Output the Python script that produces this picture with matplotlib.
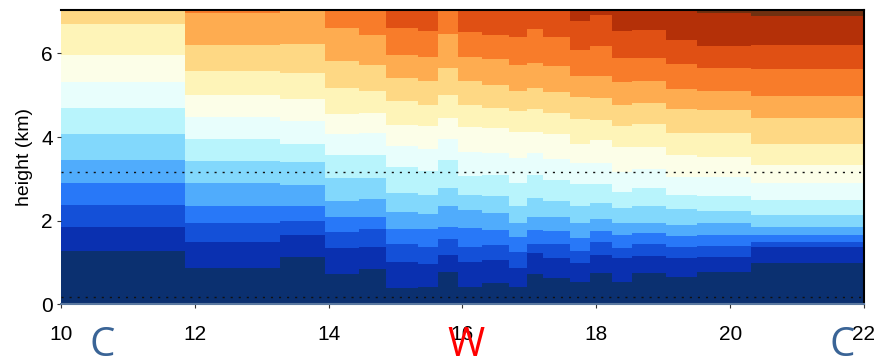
import numpy as np
import matplotlib
matplotlib.use('Agg')
import matplotlib.pyplot as plt

plt.rcParams['font.family'] = ['Liberation Sans', 'DejaVu Sans']

# Time bins (hour) used for each profile column
x_edges = [10.0, 11.85, 13.27, 13.95, 14.45, 14.85, 15.33, 15.64, 15.93, 16.29,
           16.70, 16.96, 17.21, 17.60, 17.90, 18.24, 18.54, 19.04, 19.50, 20.31, 22.0]

# Height (km) where each contour band ends, one value per column.
# nan = band continues above the top of the plot
nan = np.nan
top_1 = [1.27, 0.86, 1.13, 0.72, 0.84, 0.38, 0.42, 0.77, 0.41, 0.52,
         0.42, 0.72, 0.62, 0.54, 0.74, 0.54, 0.76, 0.66, 0.78, 1.00]
top_2 = [1.86, 1.48, 1.65, 1.34, 1.37, 1.02, 0.96, 1.17, 1.01, 1.05,
         0.88, 1.24, 1.10, 0.98, 1.18, 1.10, 1.16, 1.10, 1.14, 1.36]
top_3 = [2.38, 1.94, 1.99, 1.74, 1.81, 1.45, 1.38, 1.56, 1.38, 1.42,
         1.26, 1.45, 1.44, 1.28, 1.48, 1.34, 1.44, 1.38, 1.40, 1.50]
top_4 = [2.91, 2.34, 2.34, 2.08, 2.10, 1.81, 1.80, 1.86, 1.83, 1.78,
         1.62, 1.77, 1.75, 1.59, 1.75, 1.66, 1.70, 1.64, 1.66, 1.65]
top_5 = [3.44, 2.90, 2.85, 2.48, 2.51, 2.21, 2.17, 2.34, 2.26, 2.18,
         1.94, 2.08, 2.08, 1.95, 2.05, 1.95, 1.95, 1.90, 1.94, 1.86]
top_6 = [4.08, 3.43, 3.40, 3.03, 3.01, 2.67, 2.62, 2.79, 2.61, 2.59,
         2.34, 2.54, 2.46, 2.34, 2.43, 2.30, 2.36, 2.28, 2.24, 2.14]
top_7 = [4.70, 3.95, 3.83, 3.58, 3.58, 3.29, 3.20, 3.44, 3.08, 3.09,
         2.89, 3.09, 2.97, 2.87, 2.88, 2.69, 2.79, 2.62, 2.60, 2.50]
top_8 = [5.32, 4.49, 4.38, 4.07, 4.09, 3.79, 3.72, 3.96, 3.64, 3.61,
         3.51, 3.63, 3.48, 3.37, 3.37, 3.17, 3.23, 3.05, 3.04, 2.91]
top_9 = [5.97, 5.01, 4.92, 4.56, 4.58, 4.30, 4.27, 4.46, 4.25, 4.22,
         4.13, 4.13, 4.08, 3.83, 3.93, 3.77, 3.77, 3.57, 3.53, 3.32]
top_10 = [6.71, 5.59, 5.54, 5.18, 5.09, 4.85, 4.77, 5.01, 4.77, 4.70,
          4.62, 4.68, 4.58, 4.43, 4.41, 4.26, 4.31, 4.10, 4.10, 3.84]
top_11 = [nan, 6.21, 6.23, 5.82, 5.73, 5.42, 5.33, 5.65, 5.35, 5.25,
          5.11, 5.18, 5.08, 4.95, 4.94, 4.77, 4.82, 4.66, 4.65, 4.45]
top_12 = [nan, 6.96, nan, 6.61, 6.45, 5.97, 5.92, 6.47, 5.92, 5.87,
          5.73, 5.78, 5.71, 5.46, 5.46, 5.32, 5.35, 5.16, 5.10, 4.99]
top_13 = [nan, nan, nan, nan, nan, 6.61, 6.54, nan, 6.51, 6.45,
          6.38, 6.59, 6.40, 6.08, 6.18, 5.90, 5.88, 5.75, 5.66, 5.63]
top_14 = [nan, nan, nan, nan, nan, nan, nan, nan, nan, nan,
          nan, nan, nan, 6.78, 6.92, 6.54, 6.56, 6.32, 6.18, 6.21]
top_15 = [nan, nan, nan, nan, nan, nan, nan, nan, nan, nan,
          nan, nan, nan, nan, nan, nan, nan, nan, 6.96, 6.90]

band_colors = ['#0b3070', '#0a30b0', '#1450d8', '#2878f8', '#50acfc', '#82d8fc',
               '#b8f4fc', '#e8fefc', '#fcfee8', '#fef4b8', '#fed884', '#feac50',
               '#f87c2a', '#e05014', '#b43008', '#703010']

YTOP = 7.03

fig = plt.figure(figsize=(8.81, 3.61), dpi=100)
ax = fig.add_axes([0.0692, 0.1568, 0.9115, 0.8147])

left = np.array(x_edges[:-1])
widths = np.diff(x_edges)
tops = [top_1, top_2, top_3, top_4, top_5, top_6, top_7, top_8,
        top_9, top_10, top_11, top_12, top_13, top_14, top_15]
tops = [np.nan_to_num(np.array(t), nan=YTOP) for t in tops]
tops.append(np.full(len(left), YTOP))

bottom = np.zeros(len(left))
for color, top in zip(band_colors, tops):
    ax.bar(left, top - bottom, bottom=bottom, width=widths, align='edge',
           color=color, linewidth=0, antialiased=False)
    bottom = top

# reference levels
for h in (3.17, 0.18):
    ax.axhline(h, color='#111111', lw=1.0, linestyle=(0, (1.5, 4.3)))

ax.set_xlim(10, 22)
ax.set_ylim(0, YTOP)
ax.set_xticks([10, 12, 14, 16, 18, 20, 22])
ax.set_yticks([0, 2, 4, 6])
ax.tick_params(axis='x', labelsize=15, length=3, pad=12, color='#333333')
ax.tick_params(axis='y', labelsize=15, length=3, pad=3, color='#333333')
ax.set_ylabel('height (km)', fontsize=14, labelpad=6)

ax.spines['left'].set_visible(False)
ax.spines['top'].set_color('black')
ax.spines['top'].set_linewidth(1.5)
ax.spines['right'].set_color('black')
ax.spines['right'].set_linewidth(1.5)
ax.spines['bottom'].set_color('#5a78a0')
ax.spines['bottom'].set_linewidth(1.5)

# regime markers under the time axis
trans = ax.get_xaxis_transform()
marker_font = ['Open Sans', 'DejaVu Sans']
for xpos, letter, color in [(10.62, 'C', '#3a6496'),
                            (16.05, 'W', '#ff0000'),
                            (21.68, 'C', '#3a6496')]:
    ax.text(xpos, -0.176, letter, transform=trans, ha='center', va='baseline',
            fontsize=29, color=color, family=marker_font)

plt.savefig('out.png', dpi=100)
